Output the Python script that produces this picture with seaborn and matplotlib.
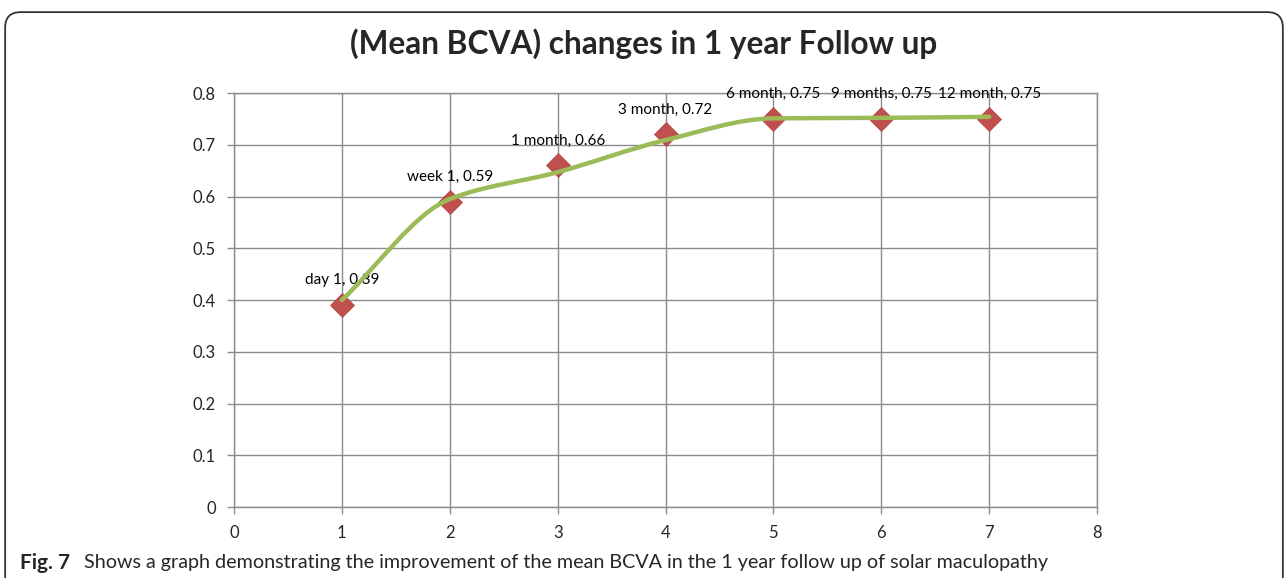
import numpy as np
import pandas as pd
import matplotlib
matplotlib.use("Agg")
import matplotlib.pyplot as plt
from matplotlib.path import Path
from matplotlib.patches import PathPatch, FancyBboxPatch
import seaborn as sns

# data
visits = ["day 1", "week 1", "1 month", "3 month", "6 month", "9 months", "12 month"]
x_pos = [1, 2, 3, 4, 5, 6, 7]
bcva = [0.39, 0.59, 0.66, 0.72, 0.75, 0.75, 0.75]
# the smoothed green series sits a little off the markers
curve_vals = [0.40, 0.595, 0.647, 0.709, 0.751, 0.752, 0.754]

df = pd.DataFrame({"x": x_pos, "bcva": bcva, "visit": visits})

sns.set_style("white")
plt.rcParams["font.family"] = ["Lato", "DejaVu Sans"]

fig = plt.figure(figsize=(12.88, 5.78), dpi=100)
ax = fig.add_axes([0.1817, 0.1228, 0.670, 0.7163])

grid_col = "#8c8c8c"

# smoothed line: bezier with monotone tangents so it does not overshoot
px = np.array(x_pos, dtype=float)
py = np.array(curve_vals, dtype=float)
d = np.diff(py) / np.diff(px)
m = np.empty_like(py)
m[0], m[-1] = d[0], d[-1]
for i in range(1, len(py) - 1):
    if d[i - 1] * d[i] <= 0:
        m[i] = 0.0
    else:
        m[i] = 2.0 / (1.0 / d[i - 1] + 1.0 / d[i])
verts = [(px[0], py[0])]
codes = [Path.MOVETO]
for i in range(len(px) - 1):
    h = px[i + 1] - px[i]
    verts += [(px[i] + h / 3, py[i] + m[i] * h / 3),
              (px[i + 1] - h / 3, py[i + 1] - m[i + 1] * h / 3),
              (px[i + 1], py[i + 1])]
    codes += [Path.CURVE4] * 3

# markers
sns.scatterplot(data=df, x="x", y="bcva", marker="D", s=150, color="#C0504D",
                edgecolor="#B04440", linewidth=0.5, ax=ax, zorder=3, legend=False)

ax.add_patch(PathPatch(Path(verts, codes), facecolor="none", edgecolor="#9BBB59",
                       lw=3.2, zorder=4, capstyle="round"))

for xv, yv, lab in zip(x_pos, bcva, visits):
    ax.annotate(f"{lab}, {yv:.2f}", (xv, yv), xytext=(0, 18), textcoords="offset points",
                ha="center", va="center", fontsize=11, color="black")

ax.set_xlim(0, 8)
ax.set_ylim(0, 0.8)
ax.set_xticks(range(0, 9))
ax.set_yticks(np.arange(0, 0.81, 0.1))
ax.set_yticklabels(["0", "0.1", "0.2", "0.3", "0.4", "0.5", "0.6", "0.7", "0.8"])
ax.grid(True, color=grid_col, lw=1)
ax.set_axisbelow(True)
for sp in ax.spines.values():
    sp.set_color(grid_col)
    sp.set_linewidth(1)
ax.tick_params(axis="both", which="both", length=5, width=1, color=grid_col,
               labelsize=12, pad=8, direction="out", bottom=True, left=True)
ax.set_xlabel("")
ax.set_ylabel("")

fig.text(0.5, 0.925, "(Mean BCVA) changes in 1 year Follow up", ha="center", va="center",
         fontsize=22.8, fontweight="bold")

# rounded frame round the chart
frame = FancyBboxPatch((0.004, -0.05), 0.992, 1.029, boxstyle="round,pad=0,rounding_size=0.012",
                       transform=fig.transFigure, facecolor="none", edgecolor="#333333",
                       lw=1.3, mutation_aspect=1288 / 578)
fig.patches.append(frame)

fig.text(0.0155, 0.026, "Fig. 7", ha="left", va="center", fontsize=15, fontweight="bold")
fig.text(0.0652, 0.026, "Shows a graph demonstrating the improvement of the mean BCVA in the 1 year follow up of solar maculopathy",
         ha="left", va="center", fontsize=14.2)

fig.savefig("out.png", dpi=100)
